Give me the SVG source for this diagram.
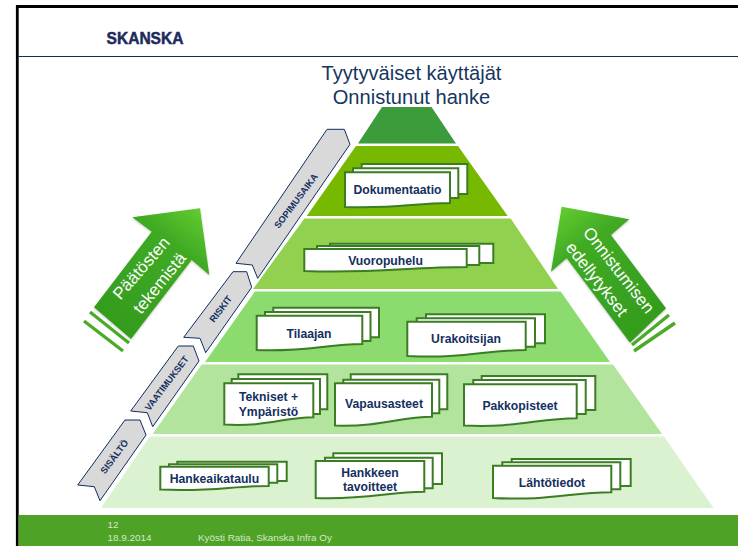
<svg xmlns="http://www.w3.org/2000/svg" width="738" height="546" viewBox="0 0 738 546">
<style>
text{font-family:"Liberation Sans",Arial,sans-serif}
.sheet{fill:#fff;stroke:#3b7d23;stroke-width:2}
.lbl{font-size:12.2px;font-weight:bold;fill:#14305f;text-anchor:middle}
.rib{fill:#d9d9d9;stroke:#0f2f5f;stroke-width:1}
.ribt{font-size:9.3px;font-weight:bold;fill:#14305f;text-anchor:middle}
.arrowt{font-size:17px;fill:#fff;text-anchor:middle}
.foot{font-size:9.9px;fill:#d5e8c8}
.title{font-size:20.1px;fill:#17365f;text-anchor:middle}
.stripe{stroke:#4aab28;stroke-width:3.4;fill:none}
</style>
<defs>
<linearGradient id="gl" gradientUnits="userSpaceOnUse" x1="200" y1="208" x2="112" y2="323"><stop offset="0" stop-color="#62cc30"/><stop offset="0.3" stop-color="#40aa24"/><stop offset="1" stop-color="#349c1e"/></linearGradient>
<linearGradient id="gr" gradientUnits="userSpaceOnUse" x1="562" y1="207" x2="648" y2="325"><stop offset="0" stop-color="#62cc30"/><stop offset="0.3" stop-color="#40aa24"/><stop offset="1" stop-color="#349c1e"/></linearGradient>
<filter id="sh" x="-10%" y="-10%" width="120%" height="120%"><feGaussianBlur in="SourceAlpha" stdDeviation="1.2"/><feOffset dy="1"/><feComponentTransfer><feFuncA type="linear" slope="0.25"/></feComponentTransfer><feMerge><feMergeNode/><feMergeNode in="SourceGraphic"/></feMerge></filter>
</defs>
<rect width="738" height="546" fill="#fff"/>
<g id="frame">
<path d="M17.3 546V6.5H738" fill="none" stroke="#000" stroke-width="2.8"/>
<path d="M18.5 56.5H738" stroke="#0a2f5c" stroke-width="1"/>
<rect x="18.5" y="515" width="719.5" height="31" fill="#4ea226"/>
<text x="106.5" y="44" font-size="17" font-weight="bold" fill="#1d2a5c" stroke="#1d2a5c" stroke-width="0.5" textLength="77" lengthAdjust="spacingAndGlyphs">SKANSKA</text>
<text class="foot" x="107.5" y="527.5">12</text>
<text class="foot" x="107.5" y="541">18.9.2014</text>
<text class="foot" x="198" y="541">Kyösti Ratia, Skanska Infra Oy</text>
</g>
<g id="title">
<text class="title" x="411.5" y="79.5">Tyytyväiset käyttäjät</text>
<text class="title" x="411.5" y="104">Onnistunut hanke</text>
</g>
<g id="pyramid">
<polygon points="382,107 431.5,107 456,143.5 358,143.5" fill="#3c9c3c"/>
<polygon points="356,146 458,146 507.7,216 306.7,216" fill="#76b900"/>
<polygon points="304.5,218.5 510.7,218.5 558,289 253,289" fill="#92d050"/>
<polygon points="255,291.5 560.7,291.5 610,362 205,362" fill="#8cdb6e"/>
<polygon points="201.7,364.5 613,364.5 662,434 152.7,434" fill="#b2e49e"/>
<polygon points="150,436.5 664,436.5 713.5,508 101,508" fill="#daf2d0"/>
</g>
<g id="ribbons">
<g id="sopimusaika"><polygon class="rib" points="327,129.3 344.3,129.3 350,144.3 257.7,278.3 252.3,265 236,263.3"/><text class="ribt" transform="translate(296,201) rotate(-53)" y="3.2">SOPIMUSAIKA</text></g>
<g id="riskit"><polygon class="rib" points="233,271.7 246.7,271.7 251.7,287.3 205.7,352.7 200,338.3 183.7,337.3"/><text class="ribt" transform="translate(220.7,309) rotate(-53)" y="3.2">RISKIT</text></g>
<g id="vaatimukset"><polygon class="rib" points="178.3,346 193.3,346 199,361 152.7,426.7 147.3,412.7 130.7,411"/><text class="ribt" transform="translate(166.7,383.3) rotate(-53)" y="3.2">VAATIMUKSET</text></g>
<g id="sisalto"><polygon class="rib" points="125,420 140,420 146,435 100,500.7 94.3,486.7 77.7,485"/><text class="ribt" transform="translate(114.3,456.7) rotate(-53)" y="3.2">SISÄLTÖ</text></g>
</g>
<g id="arrow-left">
<path class="stripe" d="M90 312L129 343"/>
<path class="stripe" d="M84 321L123 351" stroke-width="2.6"/>
<polygon points="200,208.3 132.3,217.3 151.7,231.7 94,307.3 131,339 191.7,260 209.3,275" fill="url(#gl)" filter="url(#sh)"/>
<text class="arrowt" transform="translate(141,268) rotate(-49)" y="6">Päätösten</text>
<text class="arrowt" transform="translate(159.3,283) rotate(-51)" y="6">tekemistä</text>
</g>
<g id="arrow-right">
<path class="stripe" d="M669 315L632 345"/>
<path class="stripe" d="M675 323L634 351"/>
<polygon points="561.7,206.7 629.3,219.3 611,235 666,308.3 630,342.7 566.7,258.3 551,271.7" fill="url(#gr)" filter="url(#sh)"/>
<text class="arrowt" transform="translate(619,270) rotate(52)" y="6" font-size="16.5">Onnistumisen</text>
<text class="arrowt" transform="translate(597,279) rotate(52)" y="6" font-size="16.5">edellytykset</text>
</g>
<g id="dokumentaatio">
<path class="sheet" d="M361.7 164H467.3V194H361.7Z"/><path class="sheet" d="M353 168.3H458.3V198H353Z"/>
<path class="sheet" d="M345 172.3H450V203C414 203 396 209 345 207Z"/>
<text class="lbl" x="397.5" y="193.5">Dokumentaatio</text>
</g>
<g id="vuoropuhelu">
<path class="sheet" d="M330 243.7H493.3V263H330Z"/><path class="sheet" d="M317 246H479.3V265H317Z"/>
<path class="sheet" d="M304.3 249H466.7V267C410 267 370 274 304.3 271Z"/>
<text class="lbl" x="385.5" y="264.5">Vuoropuhelu</text>
</g>
<g id="tilaajan">
<path class="sheet" d="M273.3 307.7H379V337.3H273.3Z"/><path class="sheet" d="M265 312H370.5V341H265Z"/>
<path class="sheet" d="M256.7 315.7H362.3V344C326 344 308 352 256.7 350Z"/>
<text class="lbl" x="309" y="338">Tilaajan</text>
</g>
<g id="urakoitsijan">
<path class="sheet" d="M426 314.3H545V343.3H426Z"/><path class="sheet" d="M416.7 318.3H535V346.7H416.7Z"/>
<path class="sheet" d="M407.3 321.7H525.7V350C485 350 465 359 407.3 356Z"/>
<text class="lbl" x="466" y="343">Urakoitsijan</text>
</g>
<g id="tekniset">
<path class="sheet" d="M238.3 374.3H327.3V409.3H238.3Z"/><path class="sheet" d="M231.7 379H320V414H231.7Z"/>
<path class="sheet" d="M224.3 383.3H313.3V417.3C283 417.3 267 427 224.3 424.5Z"/>
<text class="lbl" x="268.5" y="401">Tekniset +</text><text class="lbl" x="268.5" y="416">Ympäristö</text>
</g>
<g id="vapausasteet">
<path class="sheet" d="M350.7 374.3H447.3V409.3H350.7Z"/><path class="sheet" d="M343.3 379.7H439.3V413.3H343.3Z"/>
<path class="sheet" d="M335 383.3H432V416.7C399 416.7 382 427 335 425.5Z"/>
<text class="lbl" x="384" y="408">Vapausasteet</text>
</g>
<g id="pakkopisteet">
<path class="sheet" d="M481.7 376H595.3V410H481.7Z"/><path class="sheet" d="M473.3 380H585.7V414H473.3Z"/>
<path class="sheet" d="M464 384.3H576.7V418.3C538 418.3 518 428 464 425.5Z"/>
<text class="lbl" x="520" y="410">Pakkopisteet</text>
</g>
<g id="hankeaikataulu">
<path class="sheet" d="M177.3 461.7H286.7V481H177.3Z"/><path class="sheet" d="M169 464.3H277.3V482.7H169Z"/>
<path class="sheet" d="M160.3 466.7H268.7V486C231 486 212 492 160.3 489.5Z"/>
<text class="lbl" x="214.5" y="483">Hankeaikataulu</text>
</g>
<g id="hankkeen">
<path class="sheet" d="M333.3 453.3H442V484H333.3Z"/><path class="sheet" d="M325 457.7H432.7V488.3H325Z"/>
<path class="sheet" d="M315.7 461H424.3V491.7C387 491.7 368 500 315.7 498Z"/>
<text class="lbl" x="370" y="477">Hankkeen</text><text class="lbl" x="370" y="491">tavoitteet</text>
</g>
<g id="lahtotiedot">
<path class="sheet" d="M511.7 459H630.7V486H511.7Z"/><path class="sheet" d="M502.3 462.3H620.3V489.3H502.3Z"/>
<path class="sheet" d="M493 465.7H611.3V492.3C570 492.3 550 501 493 498Z"/>
<text class="lbl" x="552" y="487">Lähtötiedot</text>
</g>
</svg>
